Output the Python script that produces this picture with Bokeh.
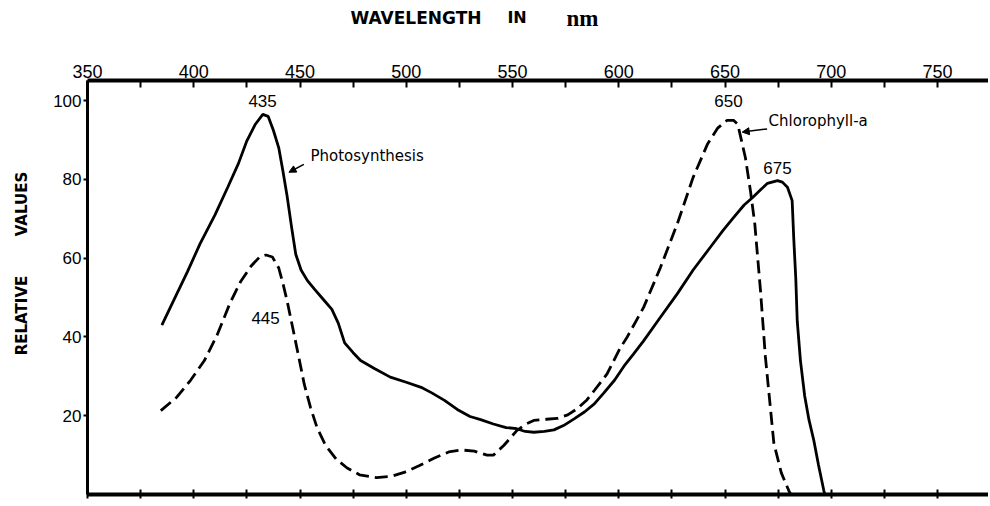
import math
from bokeh.plotting import figure
from bokeh.layouts import row, column
from bokeh.models import LinearAxis, FixedTicker, Range1d, Label, Arrow, NormalHead
from bokeh.core.properties import value
from bokeh.embed import file_html
from bokeh.resources import INLINE

# ---- data ----
photo_nm = [385, 390.5, 397, 403, 410, 416, 421, 425, 429, 432.5, 435, 437.5, 440, 442,
            444, 446, 448, 450.5, 453.5, 457, 461, 465, 468, 471, 475, 478.5, 485, 492.5,
            500, 507, 512, 518, 524, 530, 535, 541, 547, 552, 556, 560, 565, 569.5, 574,
            579, 584, 588.5, 593, 598, 603, 607, 611.7, 619.6, 627.6, 635, 643, 649, 654,
            659, 663, 667, 670, 674.7, 677, 679.4, 681.6, 682.4, 683.3, 684, 685.5, 687.5,
            689.5, 691.8, 694, 696.5, 697]
photo_val = [43, 49.2, 56.5, 63.7, 71, 78, 84, 89.8, 94, 96.5, 96, 92.4, 88, 82,
             75.5, 68, 61, 57, 54.3, 52, 49.5, 47, 43.5, 38.5, 36, 34, 32, 29.8,
             28.5, 27.2, 25.8, 23.9, 21.6, 19.8, 19, 17.9, 17, 16.7, 16, 15.8, 16, 16.4, 17.5,
             19.2, 21, 23, 25.8, 29, 33, 35.7, 39, 45, 51, 57, 62.7, 67, 70.3,
             73.5, 75.4, 77.5, 79, 79.7, 79.3, 78, 74.6, 64.5, 55, 44, 34, 25,
             19, 13.7, 7.5, 1, 0]

chl_nm = [384.5, 392, 398.5, 405, 411, 417, 422, 427, 431, 434, 437, 440, 442, 444, 446.5,
          449, 452, 455, 458, 462, 467, 472, 478, 486, 493, 499, 506, 513, 520, 526, 532,
          538, 541, 546, 552, 556, 560, 566, 571, 576, 580.5, 585, 588.5, 594.5, 600.5, 604,
          611.7, 619.6, 627.6, 635, 641.8, 646.5, 651, 654, 656, 659.6, 662, 664, 666.7,
          669, 671, 673, 676.5, 680, 681]
chl_val = [21.3, 24.7, 29, 34, 40.5, 48.5, 54, 58, 60.3, 60.8, 60.3, 57.5, 53.5, 49, 42.5,
           36, 28, 22, 17, 12.5, 9, 6.8, 5, 4.3, 4.6, 5.6, 7.3, 9.2, 10.8, 11.3, 11,
           10, 10, 12.5, 16.2, 17.8, 18.8, 19.1, 19.3, 20.2, 21.8, 24, 26.4, 30.6, 37, 40,
           47.5, 57.6, 68.8, 80.5, 89, 93, 95, 95, 94, 85.5, 77, 68.8, 51.8,
           35, 24, 13, 5.5, 1, 0]

x_major_ticks = [350, 400, 450, 500, 550, 600, 650, 700, 750]
x_minor_ticks = [375, 425, 475, 525, 575, 625, 675, 725]
y_ticks = [20, 40, 60, 80, 100]

peak_text = ["435", "445", "650", "675"]
peak_nm = [432.4, 433.8, 651.6, 674.7]
peak_val = [100.0, 44.9, 99.8, 82.9]

SANS = "Liberation Sans"
DJ = "DejaVu Sans"

TOTAL_W, TOTAL_H = 988, 504
LEFT_W, TOP_H = 40, 40
MAIN_W, MAIN_H = TOTAL_W - LEFT_W, TOTAL_H - TOP_H

xr = Range1d(350, 350 + (TOTAL_W - 87) / 2.125)


def blank(w, h, x_range, y_range):
    f = figure(width=w, height=h, x_range=x_range, y_range=y_range,
               x_axis_location=None, y_axis_location=None, output_backend="svg",
               toolbar_location=None, min_border=0)
    f.outline_line_color = None
    f.grid.visible = False
    f.background_fill_color = "white"
    f.border_fill_color = "white"
    return f


# ---- main plot ----
p = figure(width=MAIN_W, height=MAIN_H, x_range=xr, y_range=Range1d(0, 105.1),
           x_axis_location="above", output_backend="svg", toolbar_location=None,
           min_border_left=87 - LEFT_W, min_border_top=80 - TOP_H, min_border_right=0,
           min_border_bottom=TOTAL_H - 494)
p.outline_line_color = None
p.grid.visible = False
p.background_fill_color = "white"
p.border_fill_color = "white"

top = p.above[0]
top.ticker = FixedTicker(ticks=x_major_ticks, minor_ticks=x_minor_ticks)
top.axis_line_width = 4
top.axis_line_color = "black"
top.major_tick_in = 7
top.major_tick_out = 0
top.minor_tick_in = 7
top.minor_tick_out = 0
top.major_tick_line_width = 2
top.minor_tick_line_width = 2
top.major_tick_line_color = "black"
top.minor_tick_line_color = "black"
top.major_label_text_font = SANS
top.major_label_text_font_size = "18px"
top.major_label_text_color = "black"
top.major_label_standoff = 3

bottom = LinearAxis(ticker=FixedTicker(ticks=x_major_ticks + x_minor_ticks))
bottom.axis_line_width = 4
bottom.axis_line_color = "black"
bottom.major_tick_in = 5
bottom.major_tick_out = 4
bottom.major_tick_line_width = 2
bottom.major_tick_line_color = "black"
bottom.minor_tick_line_color = None
bottom.major_label_text_font_size = "4px"
bottom.major_label_text_color = None
bottom.major_label_standoff = 0
p.add_layout(bottom, "below")

ya = p.yaxis[0]
ya.ticker = FixedTicker(ticks=y_ticks)
ya.axis_line_width = 3
ya.axis_line_color = "black"
ya.major_tick_in = 0
ya.major_tick_out = 4
ya.major_tick_line_width = 2
ya.major_tick_line_color = "black"
ya.minor_tick_line_color = None
ya.major_label_text_font = SANS
ya.major_label_text_font_size = "17px"
ya.major_label_text_color = "black"
ya.major_label_standoff = 2

p.line(photo_nm, photo_val, line_color="black", line_width=2.8)
p.line(chl_nm, chl_val, line_color="black", line_width=2.8, line_dash="13 6")

p.text(x=peak_nm, y=peak_val, text=peak_text, text_font=value(SANS), text_font_size="17px",
       text_align="center", text_baseline="middle", text_color="black")

p.add_layout(Label(x=454.9, y=86, text="Photosynthesis", text_font=DJ, text_font_size="15px",
                   text_align="left", text_baseline="middle", text_color="black"))
p.add_layout(Label(x=670.5, y=94.9, text="Chlorophyll-a", text_font=DJ, text_font_size="15px",
                   text_align="left", text_baseline="middle", text_color="black"))
p.add_layout(Arrow(x_start=451.8, y_start=83.8, x_end=444.8, y_end=81.8, line_width=1.5,
                   end=NormalHead(size=7, fill_color="black", line_color="black")))
p.add_layout(Arrow(x_start=669.8, y_start=92.8, x_end=658.1, y_end=92.0, line_width=1.5,
                   end=NormalHead(size=7, fill_color="black", line_color="black")))

# ---- header strip with the x-axis title (shares the wavelength scale) ----
hdr = blank(MAIN_W, TOP_H, xr, Range1d(0, TOP_H))
hdr.add_layout(Label(x=473.8, y=TOP_H - 17, text="WAVELENGTH", text_font=DJ, text_font_size="17px",
                     text_font_style="bold", text_align="left", text_baseline="alphabetic",
                     text_color="black"))
hdr.add_layout(Label(x=547.6, y=TOP_H - 17, text="IN", text_font=DJ, text_font_size="16px",
                     text_font_style="bold", text_align="left", text_baseline="alphabetic",
                     text_color="black"))
hdr.add_layout(Label(x=575.4, y=TOP_H - 18, text="nm", text_font="Liberation Serif",
                     text_font_size="23px", text_font_style="bold", text_align="left",
                     text_baseline="alphabetic", text_color="black"))

# ---- left strip with the y-axis title (pixel coordinates) ----
lft = blank(LEFT_W, TOTAL_H, Range1d(0, LEFT_W), Range1d(0, TOTAL_H))
lft.add_layout(Label(x=21, y=TOTAL_H - 315, text="RELATIVE", text_font=DJ, text_font_size="15px",
                     text_font_style="bold", text_align="center", text_baseline="middle",
                     angle=math.pi / 2, text_color="black"))
lft.add_layout(Label(x=21, y=TOTAL_H - 203.5, text="VALUES", text_font=DJ, text_font_size="15px",
                     text_font_style="bold", text_align="center", text_baseline="middle",
                     angle=math.pi / 2, text_color="black"))

layout = row(lft, column(hdr, p, spacing=0), spacing=0)
open("out.html", "w").write(file_html(layout, INLINE))
